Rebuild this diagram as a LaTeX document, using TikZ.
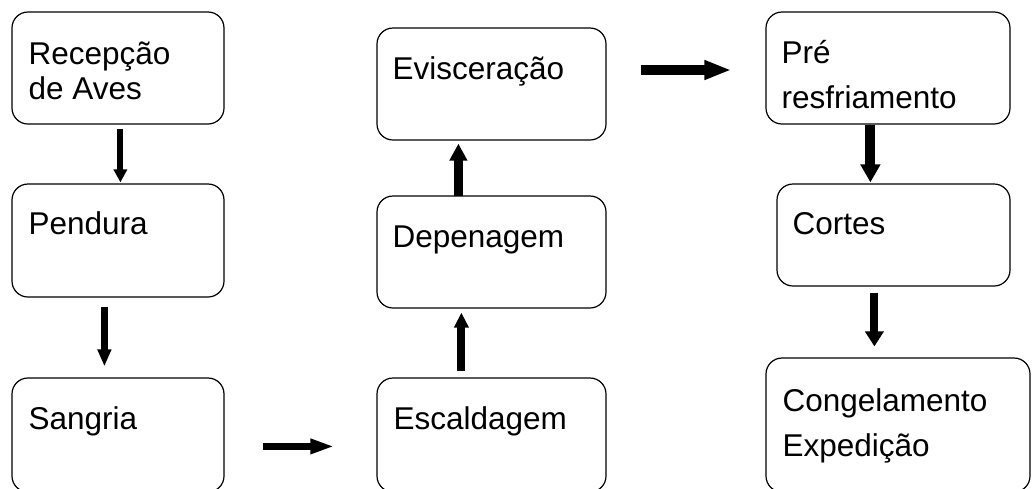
\documentclass[tikz,border=0pt]{standalone}
\usepackage{fontspec}
\setmainfont{Liberation Sans}
\usetikzlibrary{arrows.meta,calc}

\tikzset{
  stage/.style={draw, line width=1.2pt, rounded corners=16pt, rectangle,
    inner sep=0pt, minimum width=#1},
  label/.style={anchor=base west, inner sep=0pt,
    font=\fontsize{31.5}{35}\selectfont},
  blockarrow/.style n args={3}{line width=#1, line cap=butt,
    -{Triangle[width=#2, length=#3]}}
}

\begin{document}
\begin{tikzpicture}[x=1pt, y=-1pt]
  \useasboundingbox (0,0) rectangle (1032,488);

  % process stages (the bottom row runs past the lower edge)
  \node[stage=212pt, minimum height=112pt] (rec) at (118,68) {};
  \node[stage=212pt, minimum height=113pt] (pen) at (118,240.5) {};
  \node[stage=212pt, minimum height=114pt] (san) at (118,435) {};
  \node[stage=229pt, minimum height=114pt] (esc) at (491.5,435) {};
  \node[stage=229pt, minimum height=112pt] (dep) at (491.5,252) {};
  \node[stage=229pt, minimum height=112pt] (evi) at (491.5,84) {};
  \node[stage=244pt, minimum height=112pt] (pre) at (888,68) {};
  \node[stage=233pt, minimum height=102pt] (cor) at (893.5,235) {};
  \node[stage=264pt, minimum height=134pt] (con) at (898,425) {};

  % stage names
  \node[label] (rec1) at ($(rec.north west)+(17,53)$) {Recepção};
  \node[label] (rec2) at ($(rec.north west)+(17,88)$) {de Aves};
  \node[label] (pen1) at ($(pen.north west)+(17,51)$) {Pendura};
  \node[label] (san1) at ($(san.north west)+(17,52)$) {Sangria};
  \node[label] (esc1) at ($(esc.north west)+(17,52)$) {Escaldagem};
  \node[label] (dep1) at ($(dep.north west)+(16,52)$) {Depenagem};
  \node[label] (evi1) at ($(evi.north west)+(16,52)$) {Evisceração};
  \node[label] (pre1) at ($(pre.north west)+(16,52)$) {Pré};
  \node[label] (pre2) at ($(pre.north west)+(16,97)$) {resfriamento};
  \node[label] (cor1) at ($(cor.north west)+(16,51)$) {Cortes};
  \node[label] (con1) at ($(con.north west)+(17,54)$) {Congelamento};
  \node[label] (con2) at ($(con.north west)+(17,99)$) {Expedição};

  % flow arrows
  \draw[blockarrow={6pt}{13pt}{13pt}]
    ($(rec.south west)+(109,4)$) -- ($(pen.north west)+(109,-1)$);
  \draw[blockarrow={7pt}{13pt}{17pt}]
    ($(pen.south west)+(93,9)$) -- ($(san.north west)+(93,-11)$);
  \draw[blockarrow={7pt}{14pt}{24pt}]
    ($(san.north east)+(38,69)$) -- ($(esc.north west)+(-42,69)$);
  \draw[blockarrow={8pt}{14pt}{15pt}]
    ($(esc.north west)+(85,-6)$) -- ($(dep.south west)+(85,4)$);
  \draw[blockarrow={9pt}{17pt}{17pt}]
    ($(dep.north west)+(82,1)$) -- ($(evi.south west)+(82,3)$);
  \draw[blockarrow={10pt}{18pt}{27pt}]
    ($(evi.east)+(34,-14)$) -- ($(pre.west)+(-34,2)$);
  \draw[blockarrow={10pt}{19pt}{18pt}]
    ($(pre.south west)+(105,0)$) -- ($(cor.north west)+(94,-1)$);
  \draw[blockarrow={8pt}{18pt}{15pt}]
    ($(cor.south west)+(98,6)$) -- ($(con.north west)+(109,-11)$);
\end{tikzpicture}
\end{document}
